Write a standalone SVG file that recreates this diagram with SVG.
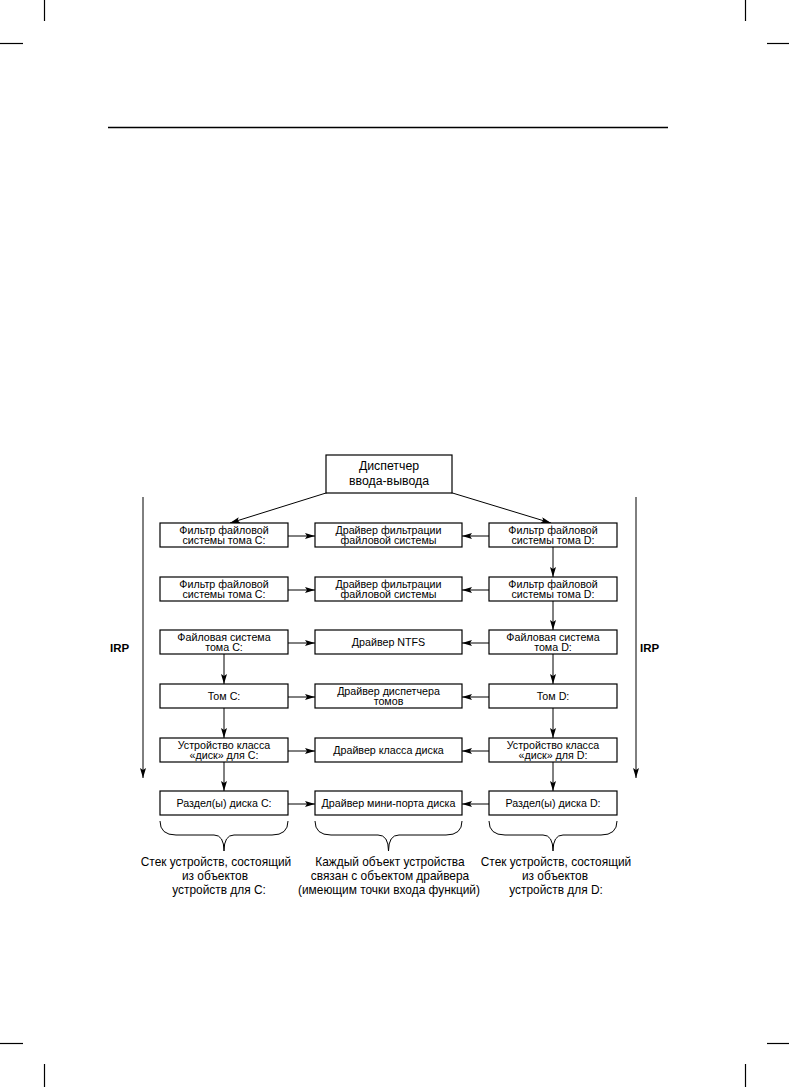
<svg xmlns="http://www.w3.org/2000/svg" width="789" height="1087" viewBox="0 0 789 1087">
<defs>
<marker id="ah" viewBox="0 0 10 6" refX="10" refY="3" markerWidth="10" markerHeight="6" markerUnits="userSpaceOnUse" orient="auto">
<path d="M0,0 L10,3 L0,6 L2,3 Z" fill="#000"/>
</marker>
<style>
.b{fill:#fff;stroke:#000;stroke-width:1.2}
.t{font-family:"Liberation Sans",Arial,sans-serif;font-size:10.7px;fill:#000;text-anchor:middle}
.tt{font-family:"Liberation Sans",Arial,sans-serif;font-size:12.3px;fill:#000;text-anchor:middle}
.c{font-family:"Liberation Sans",Arial,sans-serif;font-size:11.9px;fill:#000;text-anchor:middle}
.irp{font-family:"Liberation Sans",Arial,sans-serif;font-size:11.5px;font-weight:bold;fill:#000}
.l{stroke:#000;stroke-width:1;fill:none}
.a{stroke:#000;stroke-width:1;fill:none;marker-end:url(#ah)}
.m{stroke:#000;stroke-width:1.2}
</style>
</defs>
<rect width="789" height="1087" fill="#fff"/>
<g id="cropmarks">
<line class="m" x1="44.5" y1="0" x2="44.5" y2="21"/>
<line class="m" x1="745.5" y1="0" x2="745.5" y2="21"/>
<line class="m" x1="0" y1="43.5" x2="23" y2="43.5"/>
<line class="m" x1="767" y1="43.5" x2="789" y2="43.5"/>
<line class="m" x1="0" y1="1043.5" x2="23" y2="1043.5"/>
<line class="m" x1="767" y1="1043.5" x2="789" y2="1043.5"/>
<line class="m" x1="44.5" y1="1064" x2="44.5" y2="1087"/>
<line class="m" x1="745.5" y1="1064" x2="745.5" y2="1087"/>
<line x1="108" y1="127.5" x2="668" y2="127.5" stroke="#000" stroke-width="1.5"/>
</g>
<g id="connectors">
<line class="a" x1="342" y1="488" x2="230" y2="523"/>
<line class="a" x1="436" y1="488" x2="551" y2="523"/>
<line class="a" x1="143" y1="497" x2="143" y2="778"/>
<line class="a" x1="636" y1="497" x2="636" y2="778"/>
<line class="a" x1="288" y1="536" x2="315" y2="536"/>
<line class="a" x1="489" y1="536" x2="462" y2="536"/>
<line class="a" x1="288" y1="590" x2="315" y2="590"/>
<line class="a" x1="489" y1="590" x2="462" y2="590"/>
<line class="a" x1="288" y1="643" x2="315" y2="643"/>
<line class="a" x1="489" y1="643" x2="462" y2="643"/>
<line class="a" x1="288" y1="697" x2="315" y2="697"/>
<line class="a" x1="489" y1="697" x2="462" y2="697"/>
<line class="a" x1="288" y1="751" x2="315" y2="751"/>
<line class="a" x1="489" y1="751" x2="462" y2="751"/>
<line class="a" x1="288" y1="804" x2="315" y2="804"/>
<line class="a" x1="489" y1="804" x2="462" y2="804"/>
<line class="a" x1="553" y1="547" x2="553" y2="577"/>
<line class="a" x1="553" y1="601" x2="553" y2="630"/>
<line class="a" x1="553" y1="654" x2="553" y2="684"/>
<line class="a" x1="553" y1="708" x2="553" y2="738"/>
<line class="a" x1="553" y1="762" x2="553" y2="791"/>
<line class="a" x1="224" y1="654" x2="224" y2="684"/>
<line class="a" x1="224" y1="708" x2="224" y2="738"/>
<line class="a" x1="224" y1="762" x2="224" y2="791"/>
</g>
<g id="irp-left"><text class="irp" x="110" y="652">IRP</text></g>
<g id="irp-right"><text class="irp" x="640" y="652">IRP</text></g>
<g id="io-manager">
<rect class="b" x="326" y="455" width="126" height="38"/>
<text class="tt" x="389" y="470">Диспетчер</text>
<text class="tt" x="389" y="485">ввода-вывода</text>
</g>
<g id="c-filter1"><rect class="b" x="160" y="523" width="128" height="24"/><text class="t" x="224" y="533.5">Фильтр файловой</text><text class="t" x="224" y="544">системы тома C:</text></g>
<g id="m-filter1"><rect class="b" x="315" y="523" width="147" height="24"/><text class="t" x="388.5" y="533.5">Драйвер фильтрации</text><text class="t" x="388.5" y="544">файловой системы</text></g>
<g id="d-filter1"><rect class="b" x="489" y="523" width="128" height="24"/><text class="t" x="553" y="533.5">Фильтр файловой</text><text class="t" x="553" y="544">системы тома D:</text></g>
<g id="c-filter2"><rect class="b" x="160" y="577" width="128" height="24"/><text class="t" x="224" y="587.5">Фильтр файловой</text><text class="t" x="224" y="598">системы тома C:</text></g>
<g id="m-filter2"><rect class="b" x="315" y="577" width="147" height="24"/><text class="t" x="388.5" y="587.5">Драйвер фильтрации</text><text class="t" x="388.5" y="598">файловой системы</text></g>
<g id="d-filter2"><rect class="b" x="489" y="577" width="128" height="24"/><text class="t" x="553" y="587.5">Фильтр файловой</text><text class="t" x="553" y="598">системы тома D:</text></g>
<g id="c-fs"><rect class="b" x="160" y="630" width="128" height="24"/><text class="t" x="224" y="640.5">Файловая система</text><text class="t" x="224" y="651">тома C:</text></g>
<g id="m-ntfs"><rect class="b" x="315" y="630" width="147" height="24"/><text class="t" x="388.5" y="646">Драйвер NTFS</text></g>
<g id="d-fs"><rect class="b" x="489" y="630" width="128" height="24"/><text class="t" x="553" y="640.5">Файловая система</text><text class="t" x="553" y="651">тома D:</text></g>
<g id="c-vol"><rect class="b" x="160" y="684" width="128" height="24"/><text class="t" x="224" y="700">Том C:</text></g>
<g id="m-volmgr"><rect class="b" x="315" y="684" width="147" height="24"/><text class="t" x="388.5" y="694.5">Драйвер диспетчера</text><text class="t" x="388.5" y="705">томов</text></g>
<g id="d-vol"><rect class="b" x="489" y="684" width="128" height="24"/><text class="t" x="553" y="700">Том D:</text></g>
<g id="c-disk"><rect class="b" x="160" y="738" width="128" height="24"/><text class="t" x="224" y="748.5">Устройство класса</text><text class="t" x="224" y="759">«диск» для C:</text></g>
<g id="m-disk"><rect class="b" x="315" y="738" width="147" height="24"/><text class="t" x="388.5" y="754">Драйвер класса диска</text></g>
<g id="d-disk"><rect class="b" x="489" y="738" width="128" height="24"/><text class="t" x="553" y="748.5">Устройство класса</text><text class="t" x="553" y="759">«диск» для D:</text></g>
<g id="c-part"><rect class="b" x="160" y="791" width="128" height="24"/><text class="t" x="224" y="807">Раздел(ы) диска C:</text></g>
<g id="m-miniport"><rect class="b" x="315" y="791" width="147" height="24"/><text class="t" x="388.5" y="807">Драйвер мини-порта диска</text></g>
<g id="d-part"><rect class="b" x="489" y="791" width="128" height="24"/><text class="t" x="553" y="807">Раздел(ы) диска D:</text></g>
<g id="braces">
<path class="l" d="M160,821 Q160,835 176,835 L214,835 Q224,835 224,851 Q224,835 234,835 L272,835 Q288,835 288,821"/>
<path class="l" d="M315,821 Q315,835 331,835 L378,835 Q388.5,835 388.5,851 Q388.5,835 399,835 L446,835 Q462,835 462,821"/>
<path class="l" d="M489,821 Q489,835 505,835 L543,835 Q553,835 553,851 Q553,835 563,835 L601,835 Q617,835 617,821"/>
</g>
<g id="caption-c">
<text class="c" x="216" y="866">Стек устройств, состоящий</text>
<text class="c" x="215" y="880">из объектов</text>
<text class="c" x="219" y="894">устройств для C:</text>
</g>
<g id="caption-m">
<text class="c" x="390" y="866">Каждый объект устройства</text>
<text class="c" x="390" y="880">связан с объектом драйвера</text>
<text class="c" x="389" y="894">(имеющим точки входа функций)</text>
</g>
<g id="caption-d">
<text class="c" x="556" y="866">Стек устройств, состоящий</text>
<text class="c" x="555" y="880">из объектов</text>
<text class="c" x="556" y="894">устройств для D:</text>
</g>
</svg>
